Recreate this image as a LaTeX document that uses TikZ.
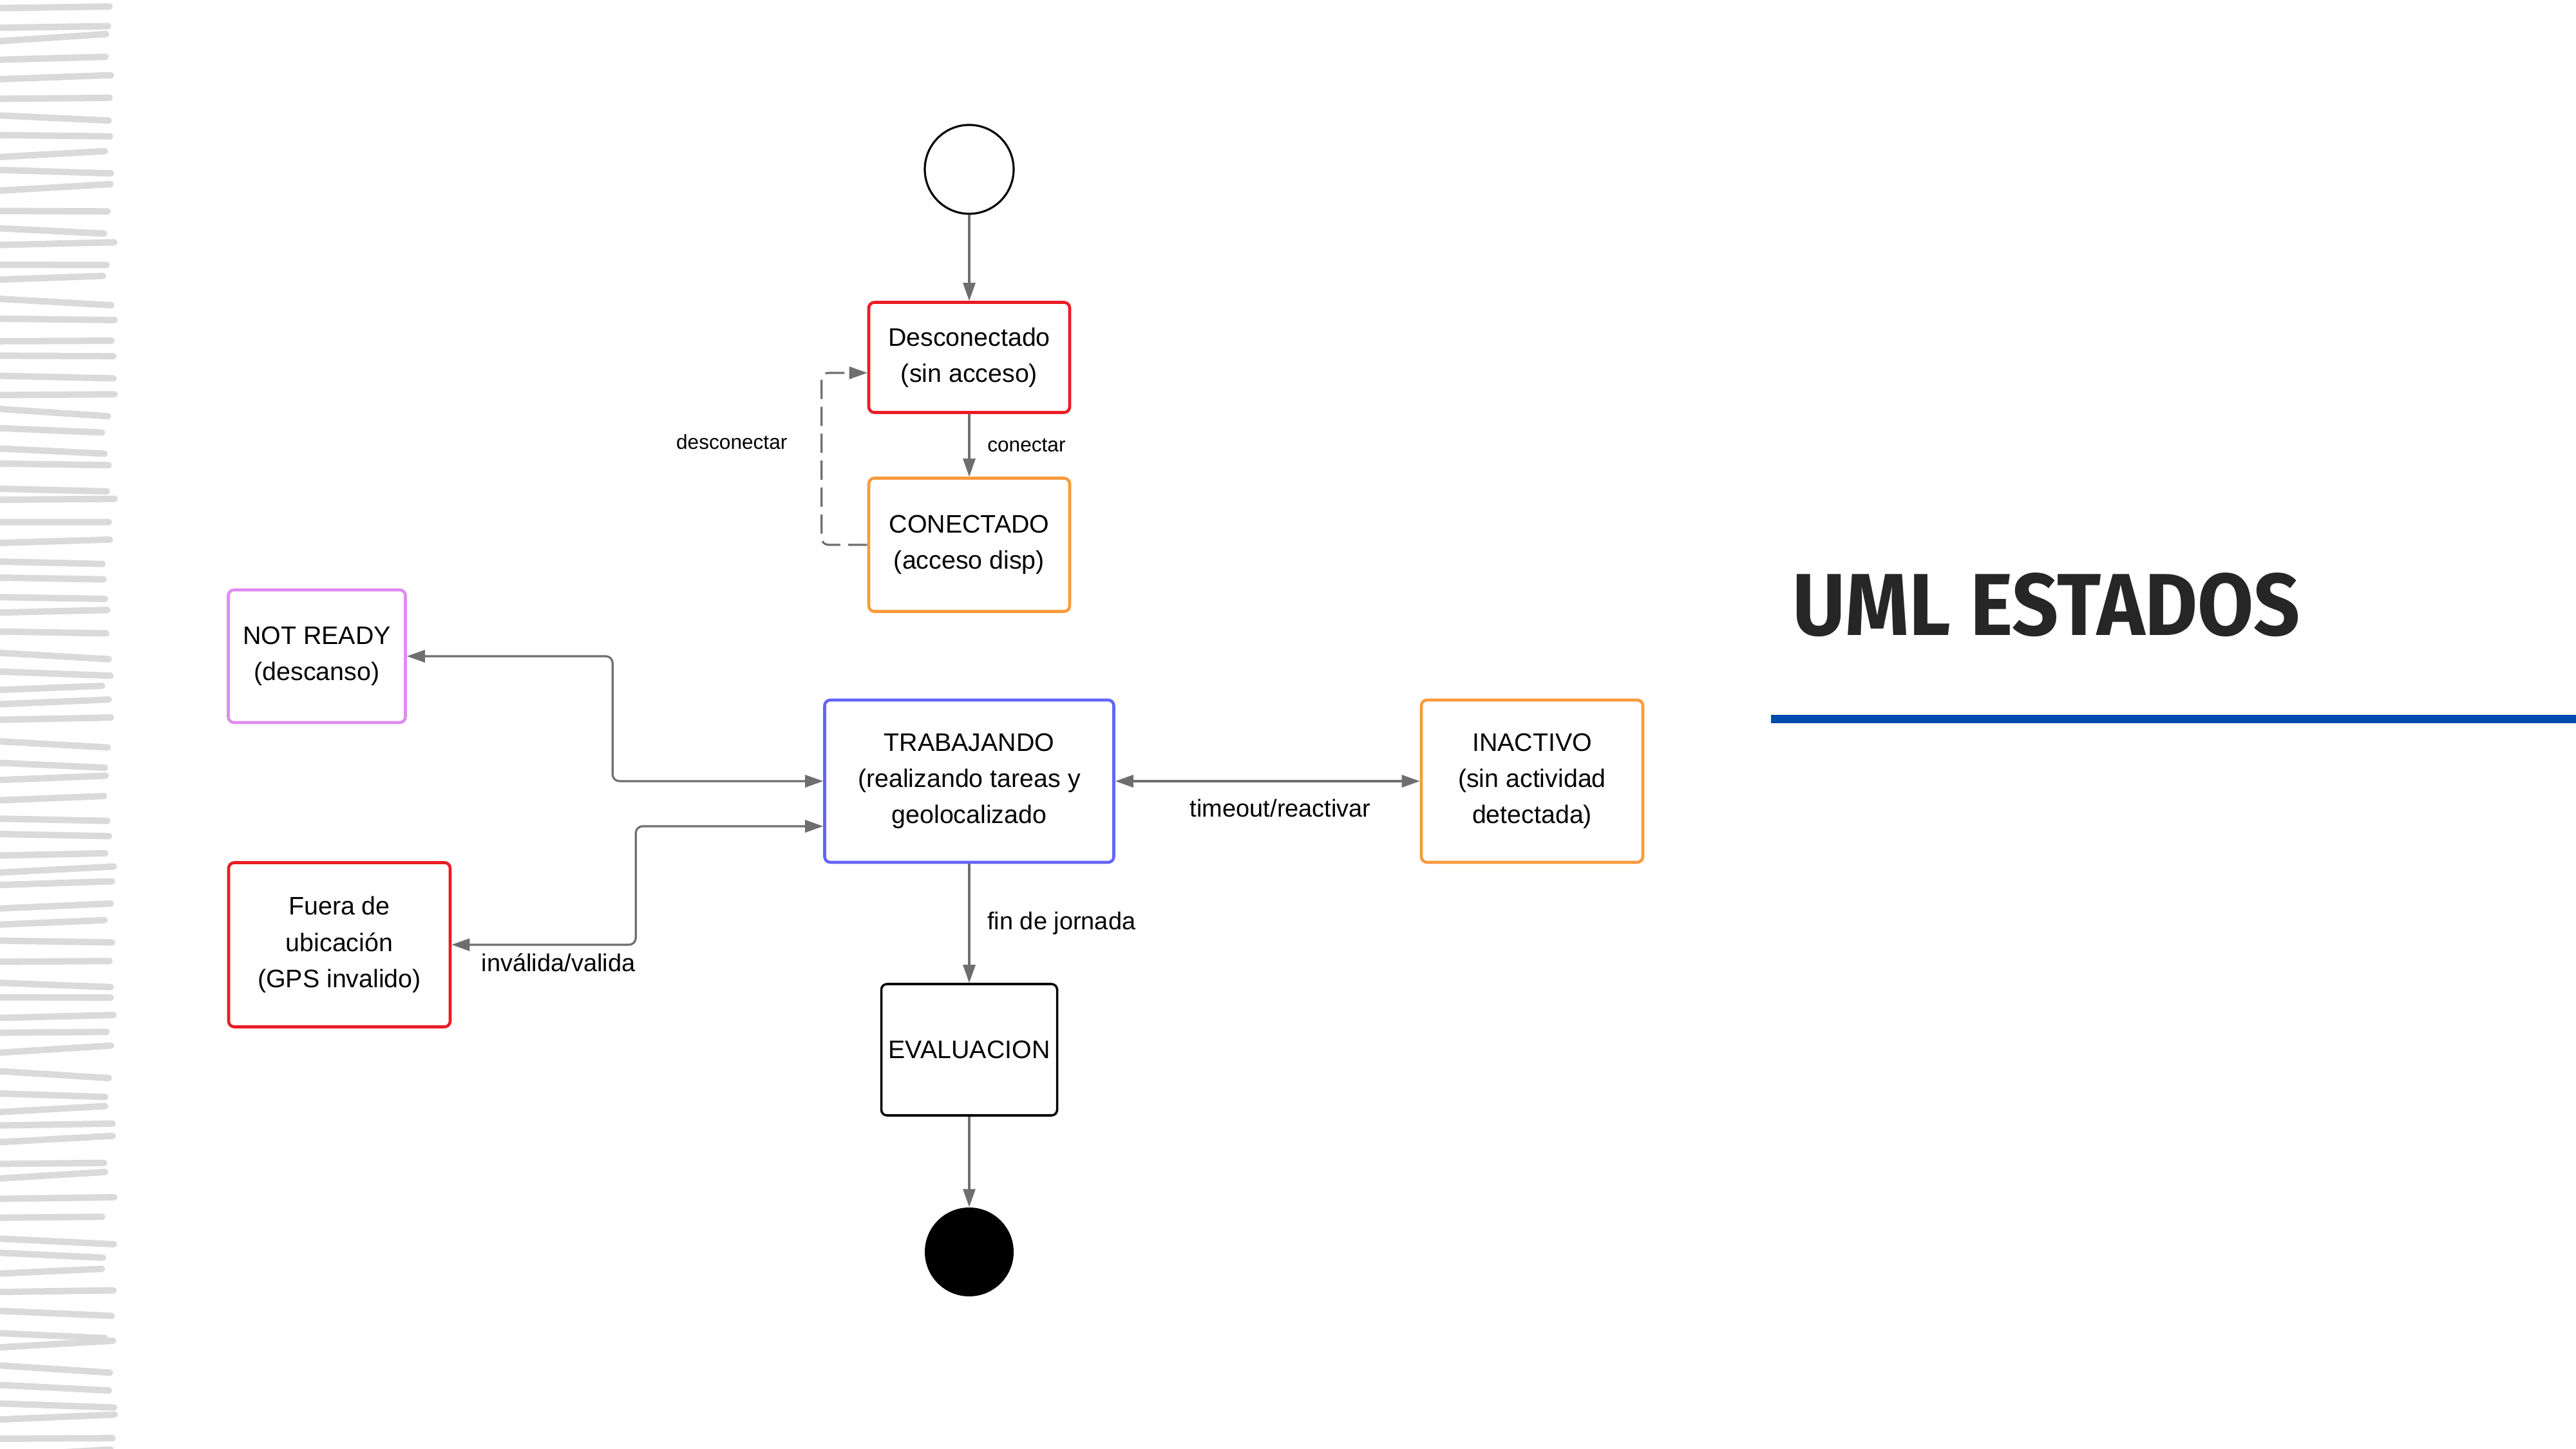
\documentclass[tikz,border=0pt]{standalone}
\usepackage{fontspec}
\setmainfont{Liberation Sans}
\newfontfamily\titulofont{Fira Sans}
\usepackage{xcolor}
\usepackage{graphicx}
\usetikzlibrary{arrows.meta, positioning, calc}

\definecolor{rojo}{HTML}{EB1C24}
\definecolor{naranja}{HTML}{FA9A3C}
\definecolor{violeta}{HTML}{DF8CF2}
\definecolor{azul}{HTML}{6464FA}
\definecolor{flecha}{HTML}{6E6E6E}
\definecolor{rayas}{HTML}{DADADA}
\definecolor{titulo}{HTML}{262626}
\definecolor{barra}{HTML}{004AAD}

\tikzset{
  estado/.style={draw, rounded corners=2.5pt, line width=1.3pt, fill=white, align=center,
    inner sep=0pt, font=\fontsize{11.2}{16}\selectfont},
  punta/.tip={Triangle[length=2.8mm, width=1.9mm]},
  trans/.style={draw=flecha, line width=0.9pt, rounded corners=3pt, -punta},
  dtrans/.style={trans, punta-punta},
  etiq/.style={font=\fontsize{10.8}{13}\selectfont},
  etiqchica/.style={font=\fontsize{9}{11}\selectfont},
  raya/.style={draw=rayas, line width=0.1cm, line cap=round}
}

\begin{document}
\begin{tikzpicture}
  \useasboundingbox (0,0) rectangle (40,-22.5);

  % rayas del margen
  \pgfmathsetseed{7}
  \foreach \i in {0,...,79}{
    \pgfmathsetmacro{\ya}{-0.12-\i*0.285+0.06*rand}
    \pgfmathsetmacro{\yb}{\ya+0.12*rand}
    \pgfmathsetmacro{\xb}{1.68+0.1*rand}
    \draw[raya] (-0.1,\ya) -- (\xb,\yb);
  }

  % estados
  \node[draw, circle, line width=0.9pt, minimum size=1.38cm] (ini) at (15.05,-2.63) {};
  \node[estado, draw=rojo, minimum width=3.12cm, minimum height=1.71cm] (desc) at (15.05,-5.55)
    {Desconectado\\(sin acceso)};
  \node[estado, draw=naranja, minimum width=3.12cm, minimum height=2.07cm] (conec) at (15.05,-8.46)
    {CONECTADO\\(acceso disp)};
  \node[estado, draw=violeta, minimum width=2.75cm, minimum height=2.06cm] (notready) at (4.92,-10.19)
    {NOT READY\\(descanso)};
  \node[estado, draw=azul, minimum width=4.49cm, minimum height=2.52cm] (trab) at (15.05,-12.13)
    {TRABAJANDO\\(realizando tareas y\\geolocalizado};
  \node[estado, draw=naranja, minimum width=3.44cm, minimum height=2.52cm] (inact) at (23.79,-12.13)
    {INACTIVO\\(sin actividad\\detectada)};
  \node[estado, draw=rojo, minimum width=3.44cm, minimum height=2.55cm] (fuera) at (5.27,-14.67)
    {Fuera de\\ubicación\\(GPS invalido)};
  \node[estado, draw=black, line width=1pt, minimum width=2.73cm, minimum height=2.04cm] (eval) at (15.05,-16.30)
    {EVALUACION};
  \node[circle, fill=black, minimum size=1.38cm] (fin) at (15.05,-19.44) {};

  % transiciones
  \draw[trans] (ini) -- (desc);
  \draw[trans] (desc) -- node[etiqchica, right=1.5mm] {conectar} (conec);
  \draw[trans, dash pattern=on 8.5pt off 3.4pt] (conec.west) -- ++(-0.71,0)
    |- node[etiqchica, pos=0.3, left=4mm] {desconectar} ($(desc.west)+(0,-0.24)$);
  \draw[dtrans] (trab.west) -- ++(-3.27,0) |- (notready.east);
  \draw[dtrans] ($(trab.west)+(0,-0.70)$) -- ++(-2.91,0)
    |- node[etiq, pos=0.71, below] {inválida/valida} (fuera.east);
  \draw[dtrans] (trab) -- node[etiq, below=1.5mm, xshift=2mm] {timeout/reactivar} (inact);
  \draw[trans] (trab) -- node[etiq, right=1.5mm] {fin de jornada} (eval);
  \draw[trans] (eval) -- (fin);

  % titulo
  \node[anchor=south west, inner sep=0pt, text=titulo] (tit) at (27.83,-9.90)
    {\resizebox{7.88cm}{0.97cm}{\titulofont\bfseries UML ESTADOS}};
  \fill[barra] (27.50,-11.10) rectangle (40,-11.23);
\end{tikzpicture}
\end{document}
